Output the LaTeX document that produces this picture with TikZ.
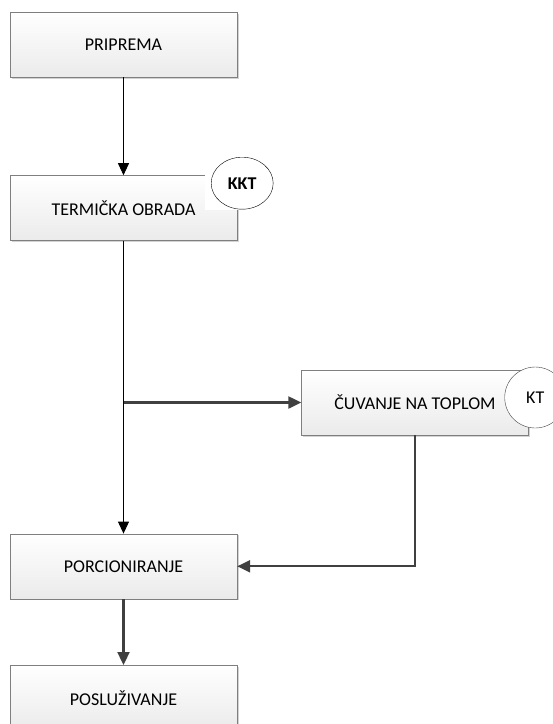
\documentclass[tikz,border=0pt]{standalone}
\usepackage{fontspec}
\setmainfont{Carlito}
\usetikzlibrary{arrows.meta, positioning, shapes.geometric, shadows}
\definecolor{linegray}{HTML}{404040}
\definecolor{boxgray}{HTML}{7F7F7F}

\begin{document}
\begin{tikzpicture}[
x=1pt, y=-1pt,
box/.style={draw=boxgray,
rectangle,
top color=white, bottom color=gray!16,
drop shadow={shadow xshift=1.5pt, shadow yshift=-1.5pt, opacity=0.35},
minimum width=227pt,
minimum height=65pt,
font=\fontsize{18}{22}\selectfont,
align=center},
badge/.style={draw, ellipse, fill=white, inner sep=0pt},
arrow/.style={-{Triangle[length=12pt, width=11pt]}, line width=0.9pt},
arrowdark/.style={-{Triangle[length=13pt, width=12pt]}, line width=2.3pt, draw=linegray, color=linegray}
]
\useasboundingbox (0,0) rectangle (553,724);

\node[box] (priprema) at (123.5,44.5) {PRIPREMA};
\node[box, below=98pt of priprema] (obrada) {TERMIČKA OBRADA};
\node[box, below=293pt of obrada] (porcioniranje) {PORCIONIRANJE};
\node[box, below=66pt of porcioniranje] (posluzivanje) {POSLUŽIVANJE};
\node[box] (cuvanje) at (415,402.5) {ČUVANJE NA TOPLOM};

% oznake kontrolnih tacaka
\fill[white] ([xshift=-32pt]obrada.north east) rectangle ([xshift=2pt,yshift=-35pt]obrada.north east);
\node[badge, minimum width=62pt, minimum height=52pt, font=\fontsize{18}{22}\selectfont\bfseries]
  (kkt) at ([xshift=5pt,yshift=-8pt]obrada.north east) {KKT};
\node[badge, draw=linegray, minimum width=61pt, minimum height=61pt, font=\fontsize{18}{22}\selectfont]
  (kt) at ([xshift=6.5pt,yshift=5pt]cuvanje.east) {KT};

\coordinate (grana) at (obrada.south |- cuvanje.west);
\coordinate (skretanje) at (cuvanje.south |- porcioniranje.east);

\draw[arrow] (priprema) -- (obrada);
\draw[arrow] (obrada) -- (porcioniranje);
\draw[arrowdark] (grana) -- (cuvanje);
\draw[arrowdark] (cuvanje.south) -- (skretanje) -- (porcioniranje.east);
\draw[arrowdark] (porcioniranje) -- (posluzivanje);

\end{tikzpicture}
\end{document}
